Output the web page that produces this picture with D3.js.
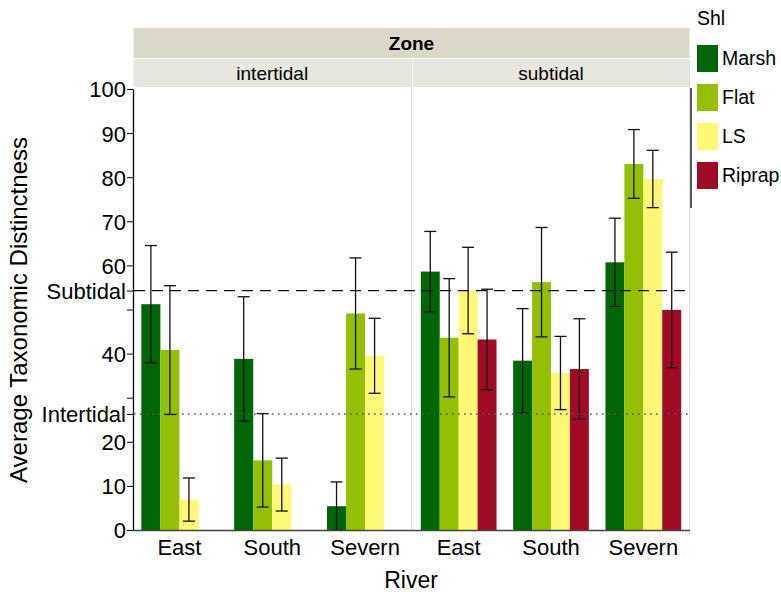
<!DOCTYPE html>
<html><head><meta charset="utf-8">
<script src="https://cdn.jsdelivr.net/npm/d3@7"></script>
<style>body{margin:0;background:#fff;} text{font-family:"Liberation Sans",Arial,sans-serif;}</style>
</head><body><svg id="c" width="781" height="592"></svg>
<script>
const rivers = ["East", "South", "Severn"];
const zones = ["intertidal", "subtidal"];
const shores = ["Marsh", "Flat", "LS", "Riprap"];
const colors = ["#006607", "#93bf05", "#fff776", "#a00a25"];
// means per river (rows) and shoreline type (columns)
const intertidalMean = [[51.2, 40.8, 6.9, null], [38.8, 15.8, 10.3, null], [5.4, 49.1, 39.5, null]];
const intertidalSE   = [[13.3, 14.6, 4.9, null], [14.1, 10.6, 6.0, null], [5.5, 12.6, 8.5, null]];
const subtidalMean   = [[58.6, 43.6, 54.3, 43.2], [38.4, 56.2, 35.6, 36.5], [60.7, 83.0, 79.6, 49.9]];
const subtidalSE     = [[9.1, 13.4, 9.8, 11.4], [11.8, 12.4, 8.3, 11.4], [10.0, 7.8, 6.5, 13.1]];
const yTicks = [0, 10, 20, 30, 40, 50, 60, 70, 80, 90, 100];
const yTickLabels = ["0", "10", "20", "", "40", "", "60", "70", "80", "90", "100"];
const refValues = [26.3, 54.3];
const refLabels = ["Intertidal", "Subtidal"];

(function () {
const svg = d3.select("#c");
const plotTop = 89, plotBottom = 530;
const panels = [{x0: 133, x1: 411.5}, {x0: 412.5, x1: 689.5}];
const y = d3.scaleLinear().domain([0, 100]).range([plotBottom, plotTop]);
const tickFont = 22, titleFont = 24, stripFont = 19, legendFont = 19.5;

// strips
svg.append("rect").attr("x", 133.5).attr("y", 28).attr("width", 556).attr("height", 30).attr("fill", "#dbd8ca");
svg.append("text").attr("x", 411.5).attr("y", 50).attr("text-anchor", "middle").attr("font-size", stripFont).attr("font-weight", "bold").text("Zone");
const zoneMeans = [intertidalMean, subtidalMean];
const zoneSE = [intertidalSE, subtidalSE];

panels.forEach((p, zi) => {
  svg.append("rect").attr("x", p.x0 + 0.5).attr("y", 59).attr("width", p.x1 - p.x0 - 0.5).attr("height", 28).attr("fill", "#e8e7df");
  svg.append("text").attr("x", (p.x0 + p.x1) / 2).attr("y", 80).attr("text-anchor", "middle").attr("font-size", stripFont).text(zones[zi]);
  svg.append("line").attr("x1", p.x1).attr("x2", p.x1).attr("y1", 59).attr("y2", plotBottom).attr("stroke", "#dcdcdc").attr("stroke-width", 1);

  const x = d3.scaleBand().domain(rivers).range([p.x0, p.x1]).paddingInner(0.18).paddingOuter(0.09);
  const xs = d3.scaleBand().domain(shores).range([0, x.bandwidth()]);
  const g = svg.append("g");
  rivers.forEach((r, ri) => {
    shores.forEach((s, si) => {
      const m = zoneMeans[zi][ri][si];
      if (m === null) return;
      const bx = x(r) + xs(s);
      g.append("rect").attr("x", bx).attr("y", y(m)).attr("width", xs.bandwidth()).attr("height", y(0) - y(m)).attr("fill", colors[si]);
    });
  });
  rivers.forEach((r, ri) => {
    shores.forEach((s, si) => {
      const m = zoneMeans[zi][ri][si];
      if (m === null) return;
      const se = zoneSE[zi][ri][si];
      const cx = x(r) + xs(s) + xs.bandwidth() / 2;
      const hi = y(m + se), lo = y(Math.max(0, m - se));
      const eg = g.append("g").attr("stroke", "#111").attr("stroke-width", 1.3);
      eg.append("line").attr("x1", cx).attr("x2", cx).attr("y1", hi).attr("y2", lo);
      eg.append("line").attr("x1", cx - 6).attr("x2", cx + 6).attr("y1", hi).attr("y2", hi);
      eg.append("line").attr("x1", cx - 6).attr("x2", cx + 6).attr("y1", lo).attr("y2", lo);
    });
  });
  rivers.forEach(r => {
    svg.append("text").attr("x", x(r) + x.bandwidth() / 2).attr("y", 555).attr("text-anchor", "middle").attr("font-size", tickFont).text(r);
  });
});

// reference lines
svg.append("line").attr("x1", 134).attr("x2", 689).attr("y1", y(refValues[1])).attr("y2", y(refValues[1]))
  .attr("stroke", "#111").attr("stroke-width", 1.3).attr("stroke-dasharray", "11,7");
svg.append("line").attr("x1", 134).attr("x2", 689).attr("y1", y(refValues[0])).attr("y2", y(refValues[0]))
  .attr("stroke", "#555").attr("stroke-width", 1.6).attr("stroke-dasharray", "1.6,4.4");

// y axis
const ya = svg.append("g").attr("transform", "translate(133,0)")
  .call(d3.axisLeft(y).tickValues(yTicks).tickFormat((d, i) => yTickLabels[i]).tickSize(6).tickSizeOuter(0));
ya.select(".domain").attr("stroke", "#000").attr("stroke-width", 1.3);
ya.selectAll(".tick line").attr("stroke", "#000");
ya.selectAll(".tick text").attr("font-size", tickFont).attr("font-family", "Liberation Sans, Arial, sans-serif").attr("fill", "#000").attr("x", -7).attr("dy", "0.36em");
const ra = svg.append("g").attr("transform", "translate(133,0)")
  .call(d3.axisLeft(y).tickValues(refValues).tickFormat((d, i) => refLabels[i]).tickSize(6));
ra.select(".domain").remove();
ra.selectAll(".tick line").attr("stroke", "#000");
ra.selectAll(".tick text").attr("font-size", tickFont).attr("font-family", "Liberation Sans, Arial, sans-serif").attr("fill", "#000").attr("x", -7).attr("dy", "0.36em");

// x axis line
svg.append("line").attr("x1", 133).attr("x2", 690).attr("y1", plotBottom + 0.5).attr("y2", plotBottom + 0.5).attr("stroke", "#444").attr("stroke-width", 1.3);

// axis titles
svg.append("text").attr("transform", "translate(27,310) rotate(-90)").attr("text-anchor", "middle").attr("font-size", titleFont).text("Average Taxonomic Distinctness");
svg.append("text").attr("x", 411).attr("y", 588).attr("text-anchor", "middle").attr("font-size", 23).text("River");

// legend
svg.append("line").attr("x1", 691).attr("x2", 691).attr("y1", 88).attr("y2", 208).attr("stroke", "#000").attr("stroke-width", 1.3);
svg.append("text").attr("x", 697).attr("y", 25).attr("font-size", legendFont).text("Shl");
shores.forEach((s, i) => {
  const ly = 45 + i * 39;
  svg.append("rect").attr("x", 697).attr("y", ly).attr("width", 21).attr("height", 27).attr("fill", colors[i]);
  svg.append("text").attr("x", 722).attr("y", ly + 20).attr("font-size", legendFont).text(s);
});
})();
</script></body></html>
